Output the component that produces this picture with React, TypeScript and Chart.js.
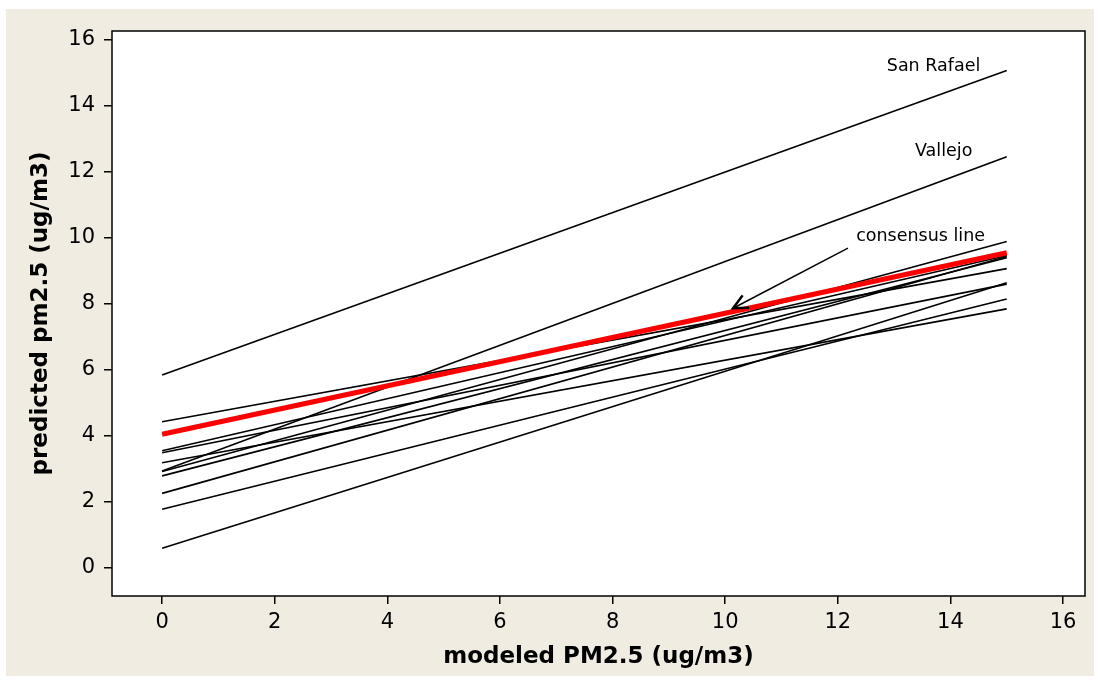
import { useEffect, useRef } from "react";
import { Chart, registerables } from "chart.js";

Chart.register(...registerables);

// modeled PM2.5 at the two ends of each fitted line
const xEnds = [0, 15];
// predicted PM2.5 at x = 0 and x = 15 for each site line
const siteStart = [5.83, 2.92, 4.41, 0.58, 1.76, 2.9, 3.53, 3.47, 3.17, 2.77, 2.24];
const siteEnd = [15.05, 12.44, 9.05, 8.62, 8.13, 9.87, 9.45, 8.58, 7.83, 9.38, 9.42];
// consensus line (red)
const consensus = [4.03, 9.53];
const xTickValues = [0, 2, 4, 6, 8, 10, 12, 14, 16];
const yTickValues = [0, 2, 4, 6, 8, 10, 12, 14, 16];

const labelTexts = ["San Rafael", "Vallejo", "consensus line"];
const labelX = [13.7, 13.88, 13.47];
const labelY = [15.17, 12.59, 10.02];
// arrow from label to consensus line (data units)
const arrowFrom = [12.18, 9.67];
const arrowTo = [10.14, 7.85];

const FONT = "'DejaVu Sans', Verdana, sans-serif";

const decorPlugin = {
  id: "decor",
  beforeDraw(chart: any) {
    const { ctx, chartArea } = chart;
    ctx.save();
    ctx.fillStyle = "#ffffff";
    ctx.fillRect(0, 0, chart.width, chart.height);
    ctx.fillStyle = "#f0ece2";
    ctx.fillRect(6, 9, chart.width - 12, chart.height - 16);
    ctx.fillStyle = "#ffffff";
    ctx.fillRect(chartArea.left, chartArea.top, chartArea.right - chartArea.left, chartArea.bottom - chartArea.top);
    ctx.restore();
  },
  afterDraw(chart: any) {
    const { ctx, chartArea, scales } = chart;
    const xs = scales.x;
    const ys = scales.y;
    ctx.save();
    ctx.strokeStyle = "#000";
    ctx.lineWidth = 1.5;
    ctx.strokeRect(chartArea.left, chartArea.top, chartArea.right - chartArea.left, chartArea.bottom - chartArea.top);

    ctx.fillStyle = "#000";
    ctx.font = `17.5px ${FONT}`;
    ctx.textAlign = "center";
    ctx.textBaseline = "middle";
    labelTexts.forEach((t, i) => {
      ctx.fillText(t, xs.getPixelForValue(labelX[i]), ys.getPixelForValue(labelY[i]));
    });

    const x1 = xs.getPixelForValue(arrowFrom[0]);
    const y1 = ys.getPixelForValue(arrowFrom[1]);
    const x2 = xs.getPixelForValue(arrowTo[0]);
    const y2 = ys.getPixelForValue(arrowTo[1]);
    ctx.lineWidth = 1.5;
    ctx.beginPath();
    ctx.moveTo(x1, y1);
    ctx.lineTo(x2, y2);
    ctx.stroke();
    const ang = Math.atan2(y1 - y2, x1 - x2);
    const len = 16;
    const spread = 0.45;
    ctx.lineWidth = 2.5;
    ctx.beginPath();
    ctx.moveTo(x2 + len * Math.cos(ang - spread), y2 + len * Math.sin(ang - spread));
    ctx.lineTo(x2, y2);
    ctx.lineTo(x2 + len * Math.cos(ang + spread), y2 + len * Math.sin(ang + spread));
    ctx.stroke();
    ctx.restore();
  },
};

export default function App() {
  const ref = useRef<HTMLCanvasElement | null>(null);

  useEffect(() => {
    if (!ref.current) return;
    const siteSets = siteStart.map((s, i) => ({
      data: xEnds.map((x, j) => ({ x, y: j === 0 ? s : siteEnd[i] })),
      borderColor: "#000000",
      borderWidth: 1.6,
      pointRadius: 0,
      fill: false,
      order: 1,
    }));
    const redSet = {
      data: xEnds.map((x, j) => ({ x, y: consensus[j] })),
      borderColor: "#ff0000",
      borderWidth: 5,
      pointRadius: 0,
      fill: false,
      order: 0,
    };
    const chart = new Chart(ref.current, {
      type: "line",
      data: { datasets: [redSet, ...siteSets] as any },
      options: {
        animation: false,
        responsive: false,
        layout: { padding: { top: 31, right: 15, left: 0, bottom: 0 } },
        plugins: { legend: { display: false }, tooltip: { enabled: false } },
        scales: {
          x: {
            type: "linear",
            min: -0.89,
            max: 16.39,
            afterBuildTicks: (s: any) => {
              s.ticks = xTickValues.map((v) => ({ value: v }));
            },
            afterFit: (s: any) => {
              s.height = 87;
            },
            ticks: { color: "#000", font: { family: FONT, size: 21 }, padding: 6, maxRotation: 0, autoSkip: false },
            grid: { drawOnChartArea: false, drawTicks: true, tickLength: 8, color: "#000", lineWidth: 1.5 },
            border: { display: false },
            title: {
              display: true,
              text: "modeled PM2.5 (ug/m3)",
              color: "#000",
              font: { family: FONT, size: 23, weight: "bold" },
              padding: { top: 0, bottom: 12 },
            },
          },
          y: {
            type: "linear",
            min: -0.87,
            max: 16.25,
            afterBuildTicks: (s: any) => {
              s.ticks = yTickValues.map((v) => ({ value: v }));
            },
            afterFit: (s: any) => {
              s.width = 112;
            },
            ticks: { color: "#000", font: { family: FONT, size: 21 }, padding: 9, autoSkip: false },
            grid: { drawOnChartArea: false, drawTicks: true, tickLength: 8, color: "#000", lineWidth: 1.5 },
            border: { display: false },
            title: {
              display: true,
              text: "predicted pm2.5 (ug/m3)",
              color: "#000",
              font: { family: FONT, size: 23, weight: "bold" },
              padding: { top: 27, bottom: 0 },
            },
          },
        },
      },
      plugins: [decorPlugin],
    });
    return () => chart.destroy();
  }, []);

  return (
    <div style={{ position: "fixed", left: 0, top: 0, width: 1100, height: 683 }}>
      <canvas ref={ref} width={1100} height={683} />
    </div>
  );
}
